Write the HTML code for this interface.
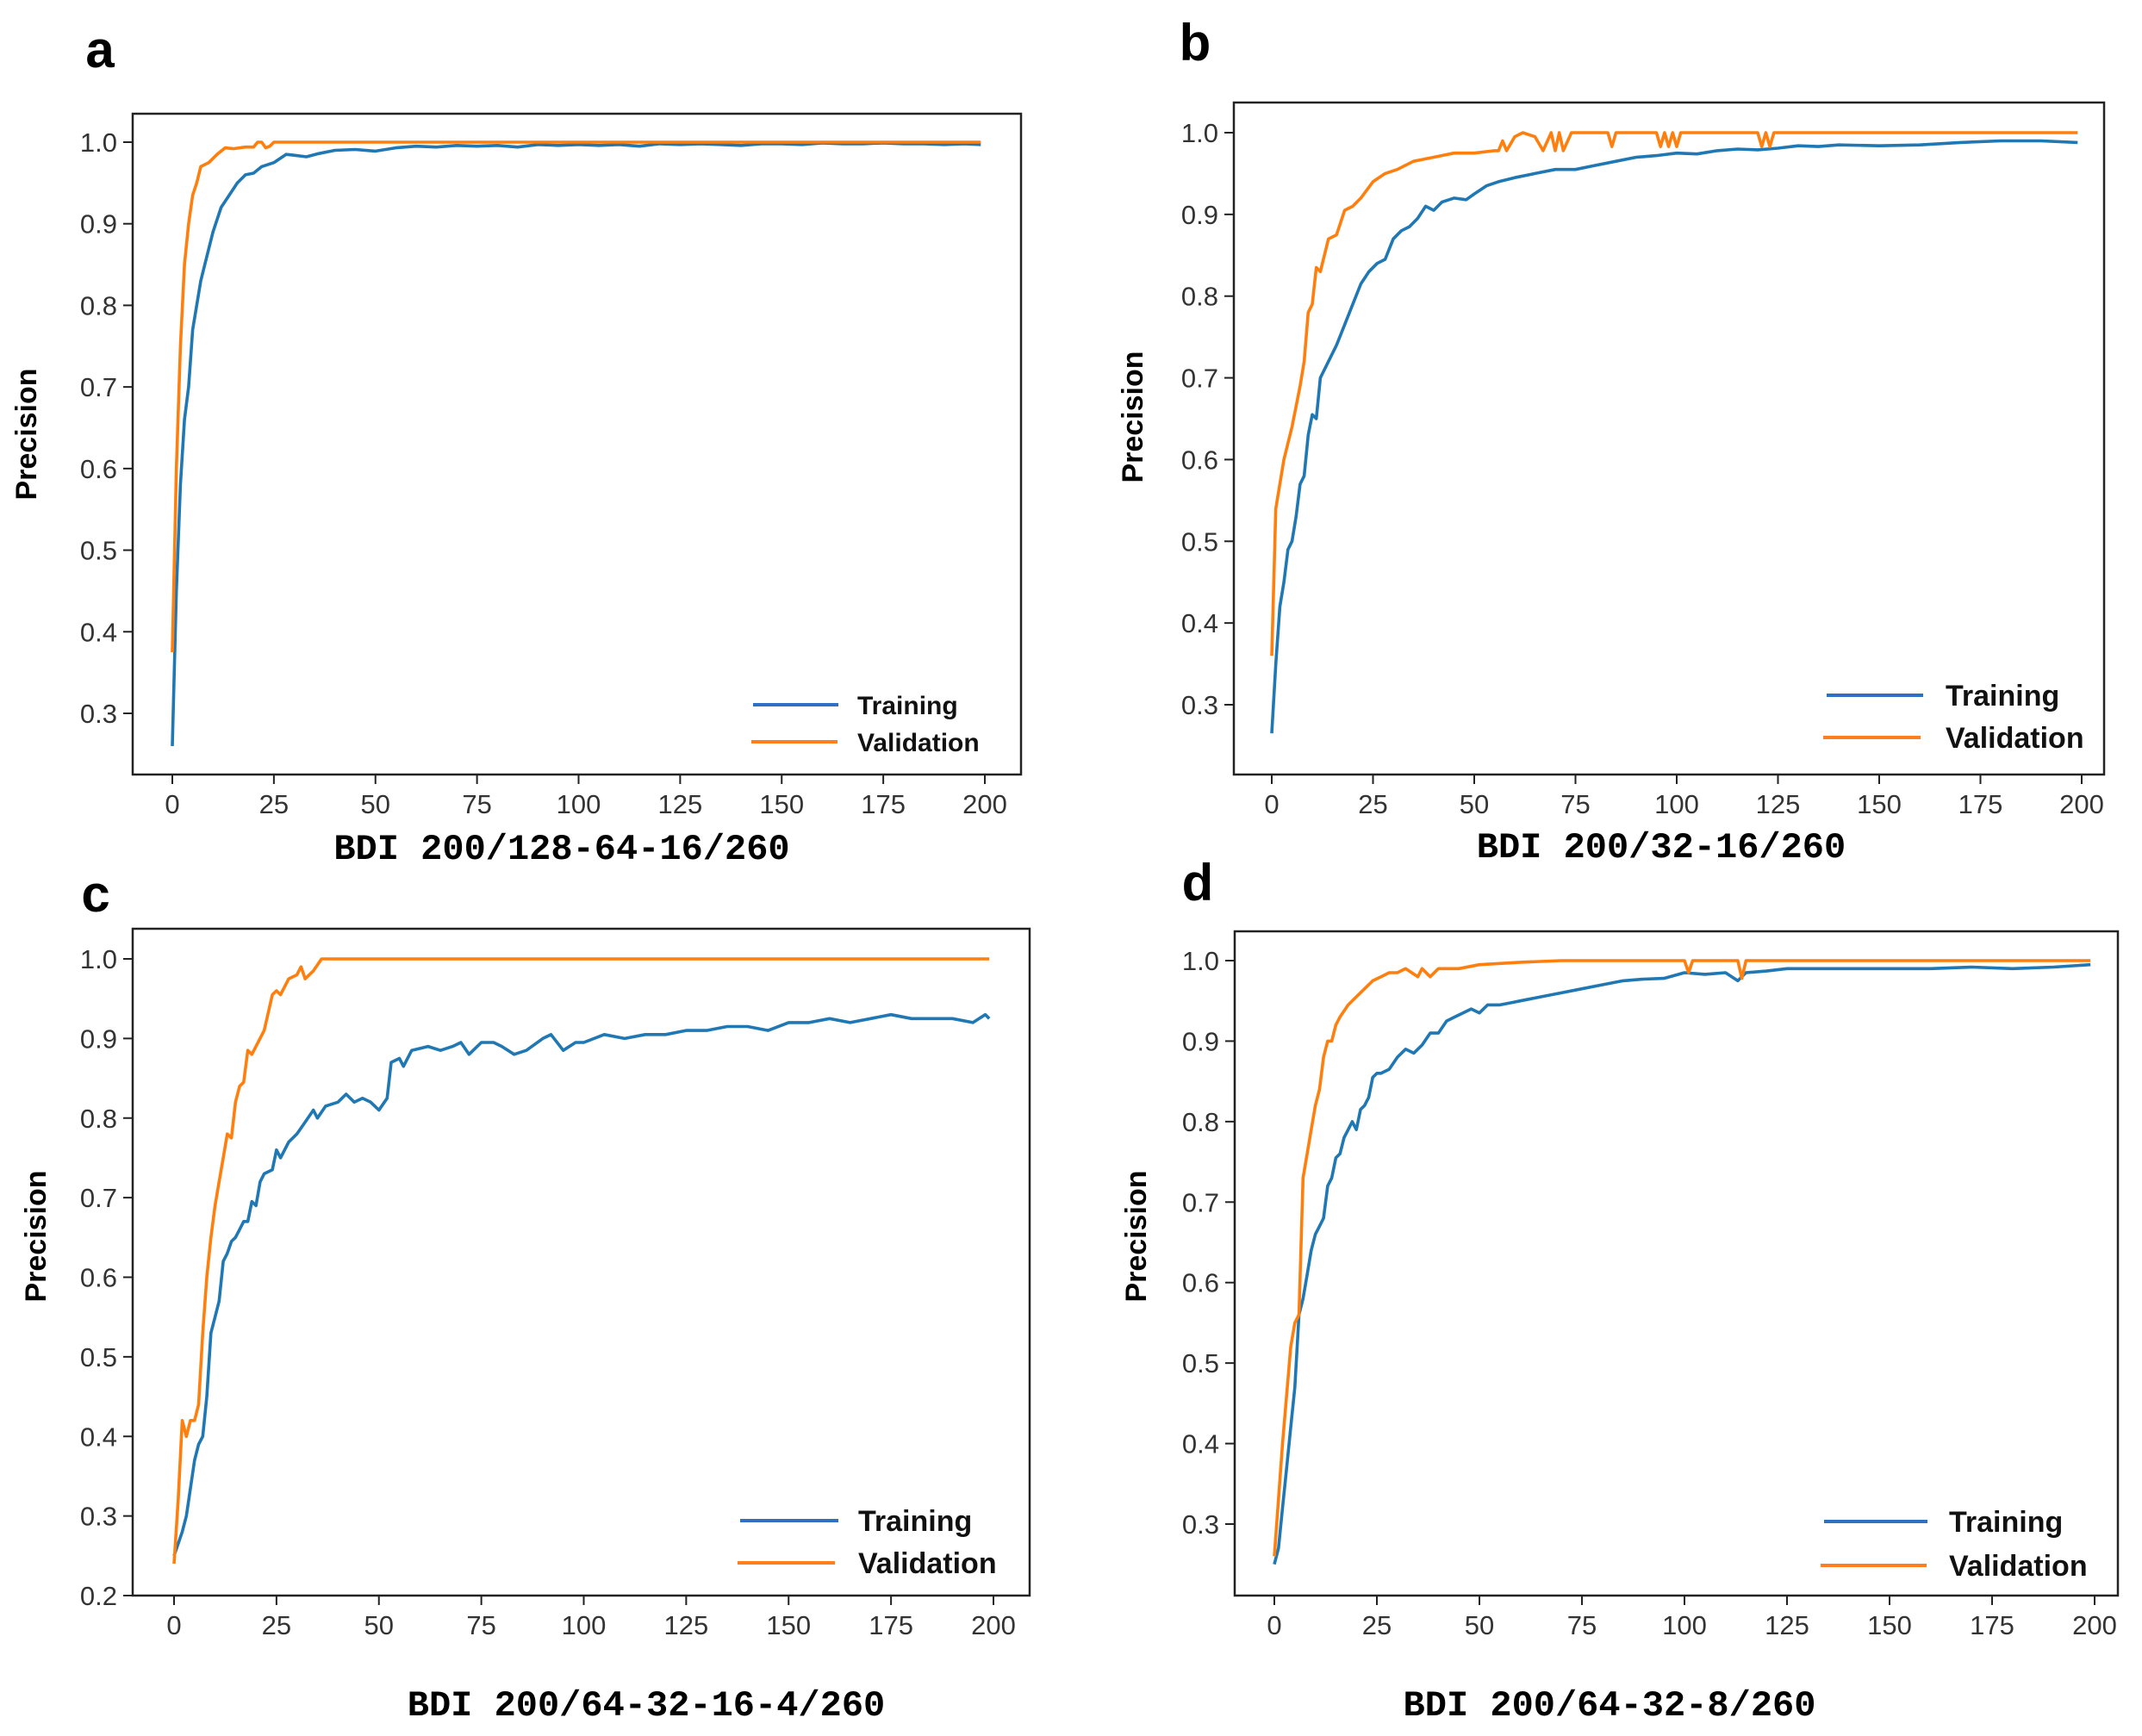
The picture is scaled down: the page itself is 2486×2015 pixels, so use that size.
<!DOCTYPE html>
<html><head><meta charset="utf-8">
<style>
html,body{margin:0;padding:0;background:#fff;}
svg{display:block;}
text{font-family:"Liberation Sans","DejaVu Sans",sans-serif;}
</style></head>
<body>
<svg id="fig" width="2486" height="2015" viewBox="0 0 2486 2015" xmlns="http://www.w3.org/2000/svg"></svg>
<script>
// ---- data: epochs and precision values per panel ----
const aTrainX=[0,1,2,3,4,5,6,7,8,10,12,14,16,18,20,22,25,28,30,33,36,40,45,50,55,60,65,70,75,80,85,90,95,100,105,110,115,120,125,130,135,140,145,150,155,160,165,170,175,180,185,190,195,199];
const aTrainY=[0.26,0.45,0.58,0.66,0.70,0.77,0.80,0.83,0.85,0.89,0.92,0.935,0.95,0.96,0.962,0.97,0.975,0.985,0.984,0.982,0.986,0.99,0.991,0.989,0.993,0.995,0.994,0.996,0.995,0.996,0.994,0.997,0.996,0.997,0.996,0.997,0.995,0.998,0.997,0.998,0.997,0.996,0.998,0.998,0.997,0.999,0.998,0.998,0.999,0.998,0.998,0.997,0.998,0.997];
const aValX=[0,1,2,3,4,5,6,7,9,11,13,15,18,20,21,22,23,24,25,26,199];
const aValY=[0.375,0.6,0.75,0.85,0.90,0.935,0.95,0.97,0.975,0.985,0.993,0.992,0.994,0.994,1.0,1.0,0.993,0.995,1.0,1.0,1.0];

const bTrainX=[0,1,2,3,4,5,6,7,8,9,10,11,12,14,16,18,20,22,24,26,28,30,32,34,36,38,40,42,45,48,50,53,56,60,65,70,75,80,85,90,95,100,105,110,115,120,125,130,135,140,150,160,170,180,190,199];
const bTrainY=[0.265,0.35,0.42,0.45,0.49,0.50,0.53,0.57,0.58,0.63,0.655,0.65,0.70,0.72,0.74,0.765,0.79,0.815,0.83,0.84,0.845,0.87,0.88,0.885,0.895,0.91,0.905,0.915,0.92,0.918,0.925,0.935,0.94,0.945,0.95,0.955,0.955,0.96,0.965,0.97,0.972,0.975,0.974,0.978,0.98,0.979,0.981,0.984,0.983,0.985,0.984,0.985,0.988,0.99,0.99,0.988];
const bValX=[0,1,3,5,7,8,9,10,11,12,14,16,18,20,22,25,28,31,35,40,45,50,55,56,57,58,60,62,65,67,69,70,71,72,74,80,83,84,85,95,96,97,98,99,100,101,120,121,122,123,124,199];
const bValY=[0.36,0.54,0.60,0.64,0.69,0.72,0.78,0.79,0.835,0.83,0.87,0.875,0.905,0.91,0.92,0.94,0.95,0.955,0.965,0.97,0.975,0.975,0.978,0.978,0.99,0.978,0.995,1.0,0.995,0.978,1.0,0.978,1.0,0.978,1.0,1.0,1.0,0.983,1.0,1.0,0.983,1.0,0.983,1.0,0.983,1.0,1.0,0.983,1.0,0.983,1.0,1.0];

const cTrainX=[0,2,3,5,6,7,8,9,10,11,12,13,14,15,16,17,18,19,20,21,22,24,25,26,28,30,32,34,35,37,40,42,44,46,48,50,52,53,55,56,58,62,65,68,70,72,75,78,80,83,86,90,92,95,98,100,105,110,115,120,125,130,135,140,145,150,155,160,165,170,175,180,185,190,195,198,199];
const cTrainY=[0.25,0.28,0.30,0.37,0.39,0.40,0.45,0.53,0.55,0.57,0.62,0.63,0.645,0.65,0.66,0.67,0.67,0.695,0.69,0.72,0.73,0.735,0.76,0.75,0.77,0.78,0.795,0.81,0.80,0.815,0.82,0.83,0.82,0.825,0.82,0.81,0.825,0.87,0.875,0.865,0.885,0.89,0.885,0.89,0.895,0.88,0.895,0.895,0.89,0.88,0.885,0.90,0.905,0.885,0.895,0.895,0.905,0.90,0.905,0.905,0.91,0.91,0.915,0.915,0.91,0.92,0.92,0.925,0.92,0.925,0.93,0.925,0.925,0.925,0.92,0.93,0.925];
const cValX=[0,1,2,3,4,5,6,7,8,9,10,11,12,13,14,15,16,17,18,19,20,22,24,25,26,28,30,31,32,34,36,199];
const cValY=[0.24,0.32,0.42,0.40,0.42,0.42,0.44,0.53,0.60,0.65,0.69,0.72,0.75,0.78,0.775,0.82,0.84,0.845,0.885,0.88,0.89,0.91,0.955,0.96,0.955,0.975,0.98,0.99,0.975,0.985,1.0,1.0];

const dTrainX=[0,1,2,3,4,5,6,7,8,9,10,11,12,13,14,15,16,17,18,19,20,21,22,23,24,25,26,28,30,32,34,36,38,40,42,44,46,48,50,52,55,58,60,65,70,75,80,85,90,95,100,105,110,113,115,120,125,130,140,150,160,170,180,190,199];
const dTrainY=[0.25,0.27,0.32,0.37,0.42,0.47,0.56,0.58,0.61,0.64,0.66,0.67,0.68,0.72,0.73,0.755,0.76,0.78,0.79,0.80,0.79,0.815,0.82,0.83,0.855,0.86,0.86,0.865,0.88,0.89,0.885,0.895,0.91,0.91,0.925,0.93,0.935,0.94,0.935,0.945,0.945,0.948,0.95,0.955,0.96,0.965,0.97,0.975,0.977,0.978,0.985,0.983,0.985,0.975,0.985,0.987,0.99,0.99,0.99,0.99,0.99,0.992,0.99,0.992,0.995];
const dValX=[0,2,4,5,6,7,8,9,10,11,12,13,14,15,16,18,20,22,24,26,28,30,32,35,36,38,40,45,50,60,70,100,101,102,113,114,115,199];
const dValY=[0.26,0.40,0.52,0.55,0.56,0.73,0.76,0.79,0.82,0.84,0.88,0.90,0.90,0.92,0.93,0.945,0.955,0.965,0.975,0.98,0.985,0.985,0.99,0.98,0.99,0.98,0.99,0.99,0.995,0.998,1.0,1.0,0.985,1.0,1.0,0.978,1.0,1.0];

const xTickVals=[0,25,50,75,100,125,150,175,200];
const yTicksA=[0.3,0.4,0.5,0.6,0.7,0.8,0.9,1.0];
const yTicksC=[0.2,0.3,0.4,0.5,0.6,0.7,0.8,0.9,1.0];

const NS="http://www.w3.org/2000/svg";
const svg=document.getElementById('fig');
function mk(tag,attrs,parent){const e=document.createElementNS(NS,tag);for(const k in attrs)e.setAttribute(k,attrs[k]);(parent||svg).appendChild(e);return e;}

const panels=[
 {id:'a',box:[154,132,1185,899],x0:200,x200:1143,yv1:1.0,yp1:165,yv2:0.3,yp2:828,yt:yTicksA,
  tr:[aTrainX,aTrainY],va:[aValX,aValY],title:'BDI 200/128-64-16/260',tx:652,ty:997,lx:116,ly:78,ylx:42,yly:504,
  leg:{bx1:874,bx2:973,by:818,ox1:872,ox2:972,oy:861,tx:995,fs:30}},
 {id:'b',box:[1432,119,2442,899],x0:1476,x200:2416,yv1:1.0,yp1:154,yv2:0.3,yp2:818,yt:yTicksA,
  tr:[bTrainX,bTrainY],va:[bValX,bValY],title:'BDI 200/32-16/260',tx:1928,ty:995,lx:1387,ly:70,ylx:1326,yly:484,
  leg:{bx1:2120,bx2:2232,by:807,ox1:2116,ox2:2229,oy:856,tx:2258,fs:34}},
 {id:'c',box:[154,1078,1195,1852],x0:202,x200:1153,yv1:1.0,yp1:1113,yv2:0.2,yp2:1852,yt:yTicksC,
  tr:[cTrainX,cTrainY],va:[cValX,cValY],title:'BDI 200/64-32-16-4/260',tx:750,ty:1991,lx:111,ly:1058,ylx:53,yly:1435,
  leg:{bx1:859,bx2:973,by:1765,ox1:856,ox2:969,oy:1814,tx:996,fs:34}},
 {id:'d',box:[1433,1081,2458,1852],x0:1479,x200:2431,yv1:1.0,yp1:1115,yv2:0.3,yp2:1769,yt:yTicksA,
  tr:[dTrainX,dTrainY],va:[dValX,dValY],title:'BDI 200/64-32-8/260',tx:1868,ty:1991,lx:1390,ly:1045,ylx:1330,yly:1435,
  leg:{bx1:2117,bx2:2237,by:1766,ox1:2113,ox2:2236,oy:1817,tx:2262,fs:34}}
];

panels.forEach(p=>{
  const g=mk('g',{});
  
  
  const xs=v=>p.x0+(p.x200-p.x0)*v/200;
  const ys=v=>p.yp1+(p.yp2-p.yp1)*(p.yv1-v)/(p.yv1-p.yv2);
  const [L,T,R,B]=p.box;
  [[p.tr,'#1f77b4','training-line'],[p.va,'#ff7f0e','validation-line']].forEach(([s,c,n])=>{
    let d='';
    s[0].forEach((x,i)=>{d+=(i?'L':'M')+xs(x).toFixed(1)+','+ys(s[1][i]).toFixed(1);});
    const path=mk('path',{d:d,fill:'none',stroke:c,'stroke-width':3.6,'stroke-linejoin':'round'},g);
    
    
  });
  const fr=mk('rect',{x:L,y:T,width:R-L,height:B-T,fill:'none',stroke:'#222','stroke-width':2.5},g);
  
  
  xTickVals.forEach(v=>{
    const x=xs(v);
    mk('line',{x1:x,y1:B,x2:x,y2:B+11,stroke:'#222','stroke-width':2},g);
    const t=mk('text',{x:x,y:B+45,'text-anchor':'middle','font-size':31,fill:'#333'},g);
    t.textContent=String(v);
    
    
  });
  p.yt.forEach(v=>{
    const y=ys(v);
    mk('line',{x1:L-11,y1:y,x2:L,y2:y,stroke:'#222','stroke-width':2},g);
    const t=mk('text',{x:L-18,y:y+11,'text-anchor':'end','font-size':31,fill:'#333'},g);
    t.textContent=v.toFixed(1);
    
    
  });
  const yl=mk('text',{x:p.ylx,y:p.yly,'text-anchor':'middle','font-size':34,'font-weight':'bold',fill:'#000',transform:'rotate(-90 '+p.ylx+' '+p.yly+')'},g);
  yl.textContent='Precision';
  
  
  const tt=mk('text',{x:p.tx,y:p.ty,'text-anchor':'middle','font-size':42,'font-weight':'bold',fill:'#000',style:'font-family:"Liberation Mono","DejaVu Sans Mono",monospace'},g);
  tt.textContent=p.title;
  
  
  const pl=mk('text',{x:p.lx,y:p.ly,'text-anchor':'middle','font-size':60,'font-weight':'bold',fill:'#000'},g);
  pl.textContent=p.id;
  
  
  const lg=p.leg;
  const l1=mk('line',{x1:lg.bx1,y1:lg.by,x2:lg.bx2,y2:lg.by,stroke:'#2f6fc4','stroke-width':4},g);
  
  
  const l2=mk('line',{x1:lg.ox1,y1:lg.oy,x2:lg.ox2,y2:lg.oy,stroke:'#ff7f1e','stroke-width':4},g);
  
  
  const t1=mk('text',{x:lg.tx,y:lg.by+lg.fs*0.36,'font-size':lg.fs,fill:'#111','font-weight':'bold'},g);
  t1.textContent='Training';
  
  
  const t2=mk('text',{x:lg.tx,y:lg.oy+lg.fs*0.36,'font-size':lg.fs,fill:'#111','font-weight':'bold'},g);
  t2.textContent='Validation';
  
  
});
</script>
</body></html>
